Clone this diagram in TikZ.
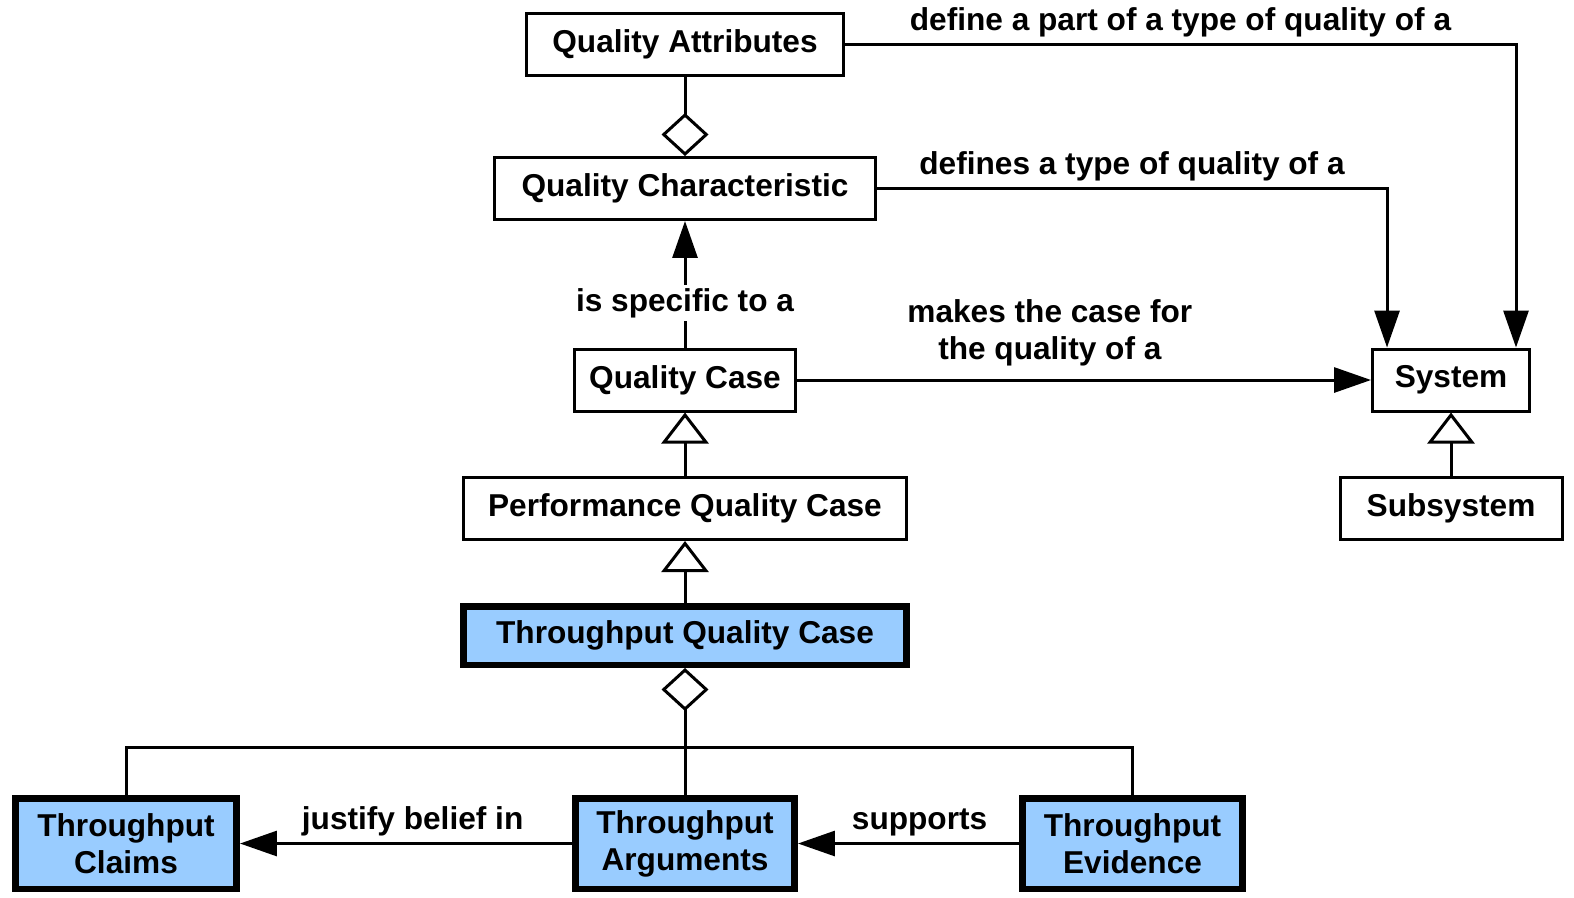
\documentclass[tikz,border=0pt]{standalone}
\usepackage{fontspec}
\setmainfont{Liberation Sans}
\usetikzlibrary{arrows.meta}
\definecolor{caseblue}{RGB}{153,204,255}

\begin{document}
\begin{tikzpicture}[x=0.02cm,y=-0.02cm,
  every node/.style={font=\bfseries\fontsize{18}{21}\selectfont},
  box/.style={draw, line width=0.06cm, minimum height=1.24cm, inner sep=0pt},
  hibox/.style={draw, line width=0.13cm, fill=caseblue, inner sep=0pt, align=center},
  link/.style={line width=0.06cm},
  assoc/.style={link, -{Triangle[length=0.74cm, width=0.5cm]}},
  gen/.style={link, -{Triangle[open, length=0.62cm, width=0.94cm]}},
  aggr/.style={link, {Diamond[open, length=0.86cm, width=0.94cm]}-}]
                \path[use as bounding box] (0,0) rectangle (1574,897);

                \node[box, minimum width=6.34cm] (qattr) at (685,44.5) {Quality Attributes};
                \node[box, minimum width=7.62cm] (qchar) at (685,188.5) {Quality Characteristic};
                \node[box, minimum width=4.44cm] (qcase) at (685,380) {Quality Case};
                \node[box, minimum width=8.88cm] (perfqc) at (685,508.5) {Performance Quality Case};
                \node[hibox, minimum width=8.87cm, minimum height=1.17cm] (thrqc) at (685,635.5) {Throughput Quality Case};
                \node[box, minimum width=3.14cm] (sys) at (1451,380) {System};
                \node[box, minimum width=4.44cm] (subsys) at (1451,508.5) {Subsystem};
                \node[hibox, minimum width=4.43cm, minimum height=1.81cm] (thrclaims) at (126,843.5) {Throughput\\Claims};
                \node[hibox, minimum width=4.39cm, minimum height=1.81cm] (thrargs) at (685,843.5) {Throughput\\Arguments};
                \node[hibox, minimum width=4.41cm, minimum height=1.81cm] (threvid) at (1132.5,843.5) {Throughput\\Evidence};
                \coordinate (bus) at (685,747);

                \draw[aggr] (qchar) -- (qattr);
                \draw[assoc] (qcase) -- node[pos=0.35, fill=white, inner sep=2pt] {is specific to a} (qchar);
                \draw[gen] (perfqc) -- (qcase);
                \draw[gen] (thrqc) -- (perfqc);
                \draw[gen] (subsys) -- (sys);
                \draw[assoc] (qcase) -- node[above=4pt, pos=0.44, align=center] {makes the case for\\the quality of a} (sys);
                \draw[assoc] (qchar) -| node[above, pos=0.25] {defines a type of quality of a} ([xshift=-1.28cm]sys.north);
                \draw[assoc] (qattr) -| node[above, pos=0.25] {define a part of a type of quality of a} ([xshift=1.3cm]sys.north);
                \draw[aggr] (thrqc) -- (thrargs);
                \draw[link] (thrclaims) |- (bus) -| (threvid);
                \draw[assoc] (thrargs) -- node[above, pos=0.48] {justify belief in} (thrclaims);
                \draw[assoc] (threvid) -- node[above, pos=0.45] {supports} (thrargs);
            \end{tikzpicture}
\end{document}
